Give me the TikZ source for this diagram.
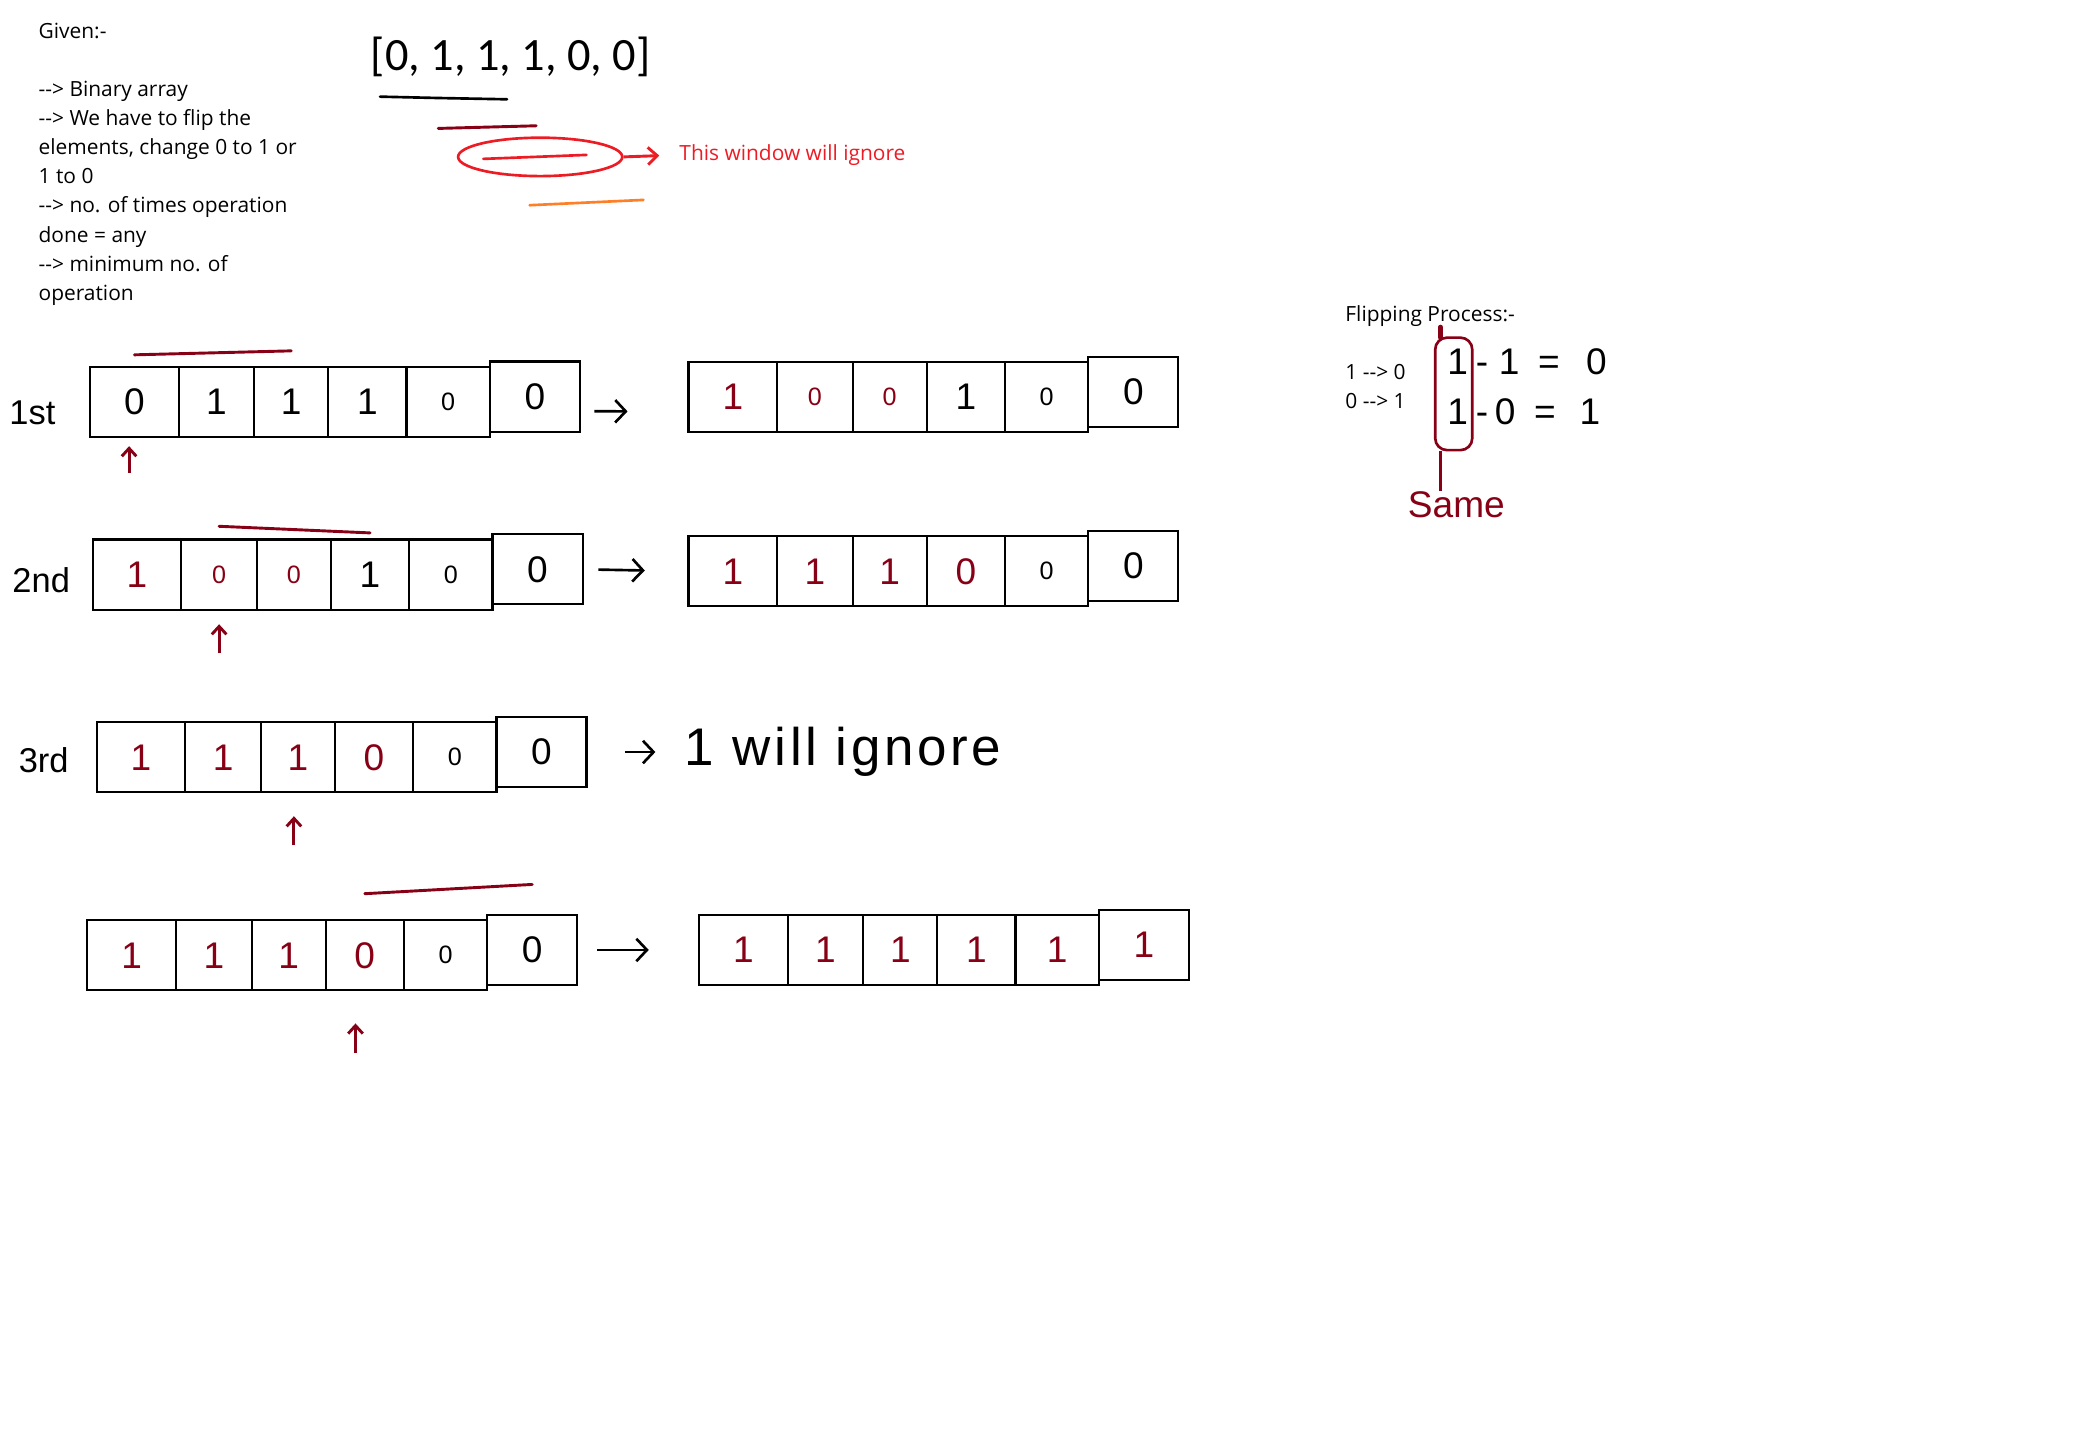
\documentclass[tikz,border=0pt]{standalone}
\usepackage{fontspec}
\usepackage{tikz}
\usetikzlibrary{positioning, arrows.meta, shapes.geometric}
\newfontfamily\uifont{Open Sans}
\newfontfamily\listfont{Carlito}
\newfontfamily\handfont{Liberation Sans}
\definecolor{penRed}{HTML}{880015}
\definecolor{markRed}{HTML}{ED1C24}
\definecolor{markOrange}{HTML}{FF7F27}
\definecolor{inkBlack}{HTML}{000000}

\begin{document}
\begin{tikzpicture}[x=1pt, y=-1pt,
  cell/.style={draw=inkBlack, line width=1.6pt, minimum height=53pt, inner sep=0pt, outer sep=0pt, font=\handfont\fontsize{28}{28}\selectfont},
  sm/.style={font=\handfont\fontsize{19}{19}\selectfont},
  hot/.style={text=penRed},
  ui/.style={font=\uifont\fontsize{15.8}{22}\selectfont, inner sep=0pt, align=left},
  hand/.style={font=\handfont\fontsize{26}{26}\selectfont, inner sep=0pt},
  flow/.style={line width=2pt, -{Straight Barb[length=8pt, width=17pt]}},
  ptr/.style={draw=penRed, line width=2.2pt, -{Straight Barb[length=6pt, width=11pt]}},
  win/.style={draw=penRed, line width=2.2pt, line cap=round}]
\fill[white] (0,0) rectangle (1568,1079);
\useasboundingbox (0,0) rectangle (1568,1079);

% problem statement
\node[ui, anchor=north west] (given) at (29,17) {Given:-\\[22pt]-{}-> Binary array\\-{}-> We have to flip the\\elements, change 0 to 1 or\\1 to 0\\-{}-> no. of times operation\\done = any\\-{}-> minimum no. of\\operation};
\node[font=\listfont\fontsize{35}{35}\selectfont, inner sep=0pt, anchor=west] (list) at (280,43) {[0, 1, 1, 1, 0, 0]};
\draw[line width=2pt, line cap=round] (287,73) -- (330,74) -- (383,75);
\draw[win] (331,97) -- (405,95);
\node[draw=markRed, line width=2pt, ellipse, minimum width=124pt, minimum height=29pt] (skipwin) at (408,118.5) {};
\draw[draw=markRed, line width=2pt, line cap=round] (365,120) -- (443,117);
\node[ui, text=markRed, anchor=west] (note) at (513,117) {This window will ignore};
\draw[markRed, line width=2.2pt, -{Straight Barb[length=7pt, width=13pt]}, shorten >=15pt] (skipwin.east) -- (note.west);
\draw[markOrange, line width=2pt, line cap=round] (400,155) -- (486,151);

% flipping rule
\node[ui, anchor=west] (rule) at (1016,239) {Flipping Process:-};
\node[ui, anchor=north west] (rulelist) at (1016,275) {1 -{}-> 0\\0 -{}-> 1};
\node[hand, font=\handfont\fontsize{28}{28}\selectfont, anchor=west] (sub1) at (1093,273) {1\hspace{6pt}-\hspace{8pt}1\hspace{14pt}=\hspace{20pt}0};
\node[hand, font=\handfont\fontsize{28}{28}\selectfont, anchor=west] (sub2) at (1093,311) {1\hspace{6pt}-\hspace{5pt}0\hspace{14pt}=\hspace{18pt}1};
\node[draw=penRed, line width=2pt, rounded corners=9pt, minimum width=28pt, minimum height=85pt] (loop) at (1098,297.5) {};
\draw[penRed, line width=3.5pt, line cap=round] (1088,247) -- (1088,255);
\node[hand, text=penRed, font=\handfont\fontsize{28}{28}\selectfont] (same) at (1100,381) {Same};
\coordinate (stem) at ([xshift=-10pt]loop.south);
\draw[penRed, line width=2pt] (stem) -- (stem |- same.north);

% 1st step
\node[cell, minimum width=67pt] (r1a1) at (101.5,303.5) {0};
\node[cell, minimum width=57pt, right=0pt of r1a1] (r1a2) {1};
\node[cell, minimum width=56pt, right=0pt of r1a2] (r1a3) {1};
\node[cell, minimum width=59pt, right=0pt of r1a3] (r1a4) {1};
\node[cell, sm, minimum width=63pt, right=0pt of r1a4] (r1a5) {0};
\node[cell, minimum width=68pt, right=0pt of r1a5, yshift=4pt] (r1a6) {0};
\node[cell, hot, minimum width=67pt] (r1b1) at (553.5,300) {1};
\node[cell, hot, sm, minimum width=57pt, right=0pt of r1b1] (r1b2) {0};
\node[cell, hot, sm, minimum width=56pt, right=0pt of r1b2] (r1b3) {0};
\node[cell, minimum width=59pt, right=0pt of r1b3] (r1b4) {1};
\node[cell, sm, minimum width=63pt, right=0pt of r1b4] (r1b5) {0};
\node[cell, minimum width=68pt, right=0pt of r1b5, yshift=4pt] (r1b6) {0};
\node[hand, left=26pt of r1a1, yshift=-8pt] (lab1) {1st};
\draw[win] ([yshift=9pt]r1a1.north) -- ([yshift=12pt]r1a3.north);
\coordinate (p1) at ([xshift=-4pt, yshift=-27pt]r1a1.south);
\draw[ptr, shorten >=7pt] (p1) -- (p1 |- r1a1.south);
\draw[flow, shorten <=11pt, shorten >=46pt] ([yshift=-11pt]r1a6.east) -- ([yshift=-11pt]r1b1.west);

% 2nd step
\node[cell, hot, minimum width=67pt] (r2a1) at (103.5,434) {1};
\node[cell, hot, sm, minimum width=57pt, right=0pt of r2a1] (r2a2) {0};
\node[cell, hot, sm, minimum width=56pt, right=0pt of r2a2] (r2a3) {0};
\node[cell, minimum width=59pt, right=0pt of r2a3] (r2a4) {1};
\node[cell, sm, minimum width=63pt, right=0pt of r2a4] (r2a5) {0};
\node[cell, minimum width=68pt, right=0pt of r2a5, yshift=4pt] (r2a6) {0};
\node[cell, hot, minimum width=67pt] (r2b1) at (553.5,431.5) {1};
\node[cell, hot, minimum width=57pt, right=0pt of r2b1] (r2b2) {1};
\node[cell, hot, minimum width=56pt, right=0pt of r2b2] (r2b3) {1};
\node[cell, hot, minimum width=59pt, right=0pt of r2b3] (r2b4) {0};
\node[cell, sm, minimum width=63pt, right=0pt of r2b4] (r2b5) {0};
\node[cell, minimum width=68pt, right=0pt of r2b5, yshift=4pt] (r2b6) {0};
\node[hand, left=17pt of r2a1, yshift=-4pt] (lab2) {2nd};
\draw[win] ([yshift=10pt]r2a2.north) -- ([yshift=5pt]r2a4.north);
\coordinate (p2) at ([yshift=-33pt]r2a2.south);
\draw[ptr, shorten >=11pt] (p2) -- (r2a2);
\draw[flow, shorten <=12pt, shorten >=33pt] (r2a6.east) -- (r2b1.west);

% 3rd step
\node[cell, hot, minimum width=67pt] (r3a1) at (106.5,572) {1};
\node[cell, hot, minimum width=57pt, right=0pt of r3a1] (r3a2) {1};
\node[cell, hot, minimum width=56pt, right=0pt of r3a2] (r3a3) {1};
\node[cell, hot, minimum width=59pt, right=0pt of r3a3] (r3a4) {0};
\node[cell, sm, minimum width=63pt, right=0pt of r3a4] (r3a5) {0};
\node[cell, minimum width=68pt, right=0pt of r3a5, yshift=4pt] (r3a6) {0};
\node[hand, left=21pt of r3a1, yshift=-2pt] (lab3) {3rd};
\node[hand, font=\handfont\fontsize{40}{40}\selectfont\addfontfeature{LetterSpace=7}, anchor=west] (ignore) at (517,568) {1 will ignore};
\coordinate (p3) at ([xshift=-3pt, yshift=-40pt]r3a3.south);
\draw[ptr, shorten >=18pt] (p3) -- (p3 |- r3a3.south);
\draw[flow, shorten <=29pt, shorten >=22pt] (r3a6.east) -- (ignore.west);

% last step
\node[cell, hot, minimum width=67pt] (r4a1) at (99.5,721.5) {1};
\node[cell, hot, minimum width=57pt, right=0pt of r4a1] (r4a2) {1};
\node[cell, hot, minimum width=56pt, right=0pt of r4a2] (r4a3) {1};
\node[cell, hot, minimum width=59pt, right=0pt of r4a3] (r4a4) {0};
\node[cell, sm, minimum width=63pt, right=0pt of r4a4] (r4a5) {0};
\node[cell, minimum width=68pt, right=0pt of r4a5, yshift=4pt] (r4a6) {0};
\node[cell, hot, minimum width=67pt] (r4b1) at (561.5,717.5) {1};
\node[cell, hot, minimum width=57pt, right=0pt of r4b1] (r4b2) {1};
\node[cell, hot, minimum width=56pt, right=0pt of r4b2] (r4b3) {1};
\node[cell, hot, minimum width=59pt, right=0pt of r4b3] (r4b4) {1};
\node[cell, hot, minimum width=63pt, right=0pt of r4b4] (r4b5) {1};
\node[cell, hot, minimum width=68pt, right=0pt of r4b5, yshift=4pt] (r4b6) {1};
\draw[win] ([yshift=20pt]r4a4.north) -- ([yshift=23pt]r4a6.north);
\coordinate (p4) at ([xshift=-7pt, yshift=-47pt]r4a4.south);
\draw[ptr, shorten >=25pt] (p4) -- (p4 |- r4a4.south);
\draw[flow, shorten <=15pt, shorten >=38pt] (r4a6.east) -- (r4b1.west);
\end{tikzpicture}
\end{document}
